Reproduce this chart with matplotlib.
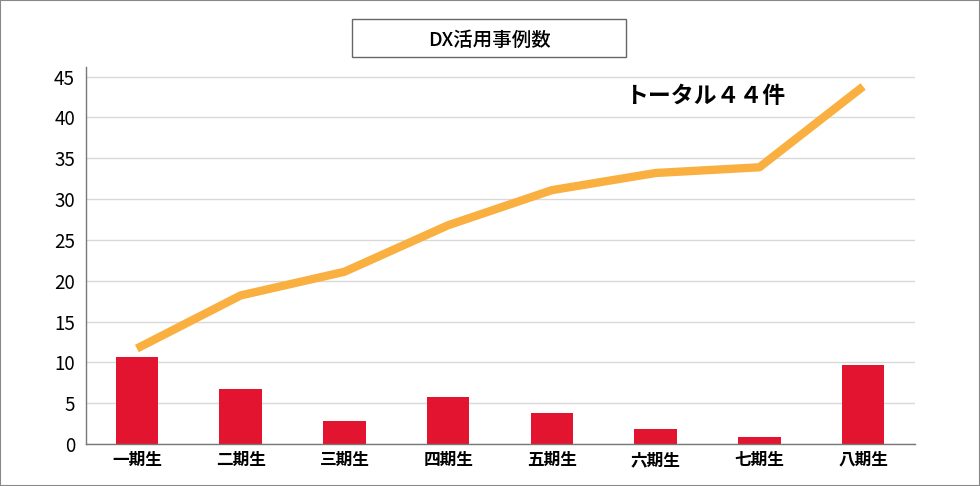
import matplotlib
matplotlib.use("Agg")
import matplotlib.pyplot as plt
from matplotlib.patches import Rectangle

plt.rcParams['font.family'] = ['Noto Sans CJK JP', 'DejaVu Sans']

# データ
categories = ["一期生", "二期生", "三期生", "四期生", "五期生", "六期生", "七期生", "八期生"]
cases = [10.7, 6.8, 2.8, 5.8, 3.8, 1.8, 0.8, 9.7]
total = [11.7, 18.2, 21.1, 26.8, 31.1, 33.2, 33.9, 43.8]
yticks = [0, 5, 10, 15, 20, 25, 30, 35, 40, 45]

fig = plt.figure(figsize=(9.8, 4.86), dpi=100)
ax = fig.add_axes([0.0878, 0.0864, 0.8459, 0.776])

x = range(len(categories))
ax.bar(x, cases, width=0.41, color="#E31430", zorder=2)
ax.plot(x, total, color="#F9B040", linewidth=6, solid_capstyle="butt", zorder=3)

ax.set_xlim(-0.49, 7.5)
ax.set_ylim(0, 46.2)
ax.set_yticks(yticks)
ax.set_xticks(list(x))
ax.set_xticklabels(categories, fontsize=12, fontweight="bold")
ax.tick_params(axis="y", labelsize=13.5, length=0, pad=8)
ax.tick_params(axis="x", length=0, pad=5)
ax.grid(axis="y", color="#d9d9d9", linewidth=1, zorder=0)
ax.set_axisbelow(True)
for s in ["top", "right"]:
    ax.spines[s].set_visible(False)
for s in ["left", "bottom"]:
    ax.spines[s].set_color("#777777")
    ax.spines[s].set_linewidth(1)

ax.text(5.48, 42.6, "トータル４４件", fontsize=16.5, fontweight="bold",
        ha="center", va="center")

# タイトル枠
fig.patches.append(Rectangle((352 / 980, 1 - 57 / 486), 274 / 980, 38 / 486,
                             transform=fig.transFigure, fill=False,
                             edgecolor="#666666", linewidth=1))
fig.text(489 / 980, 1 - 40 / 486, "DX活用事例数", fontsize=14, fontweight="medium",
         ha="center", va="center")

# 外枠
fig.patches.append(Rectangle((0, 0), 1, 1, transform=fig.transFigure,
                             fill=False, edgecolor="#888888", linewidth=1.5))

fig.savefig("out.png", dpi=100)
